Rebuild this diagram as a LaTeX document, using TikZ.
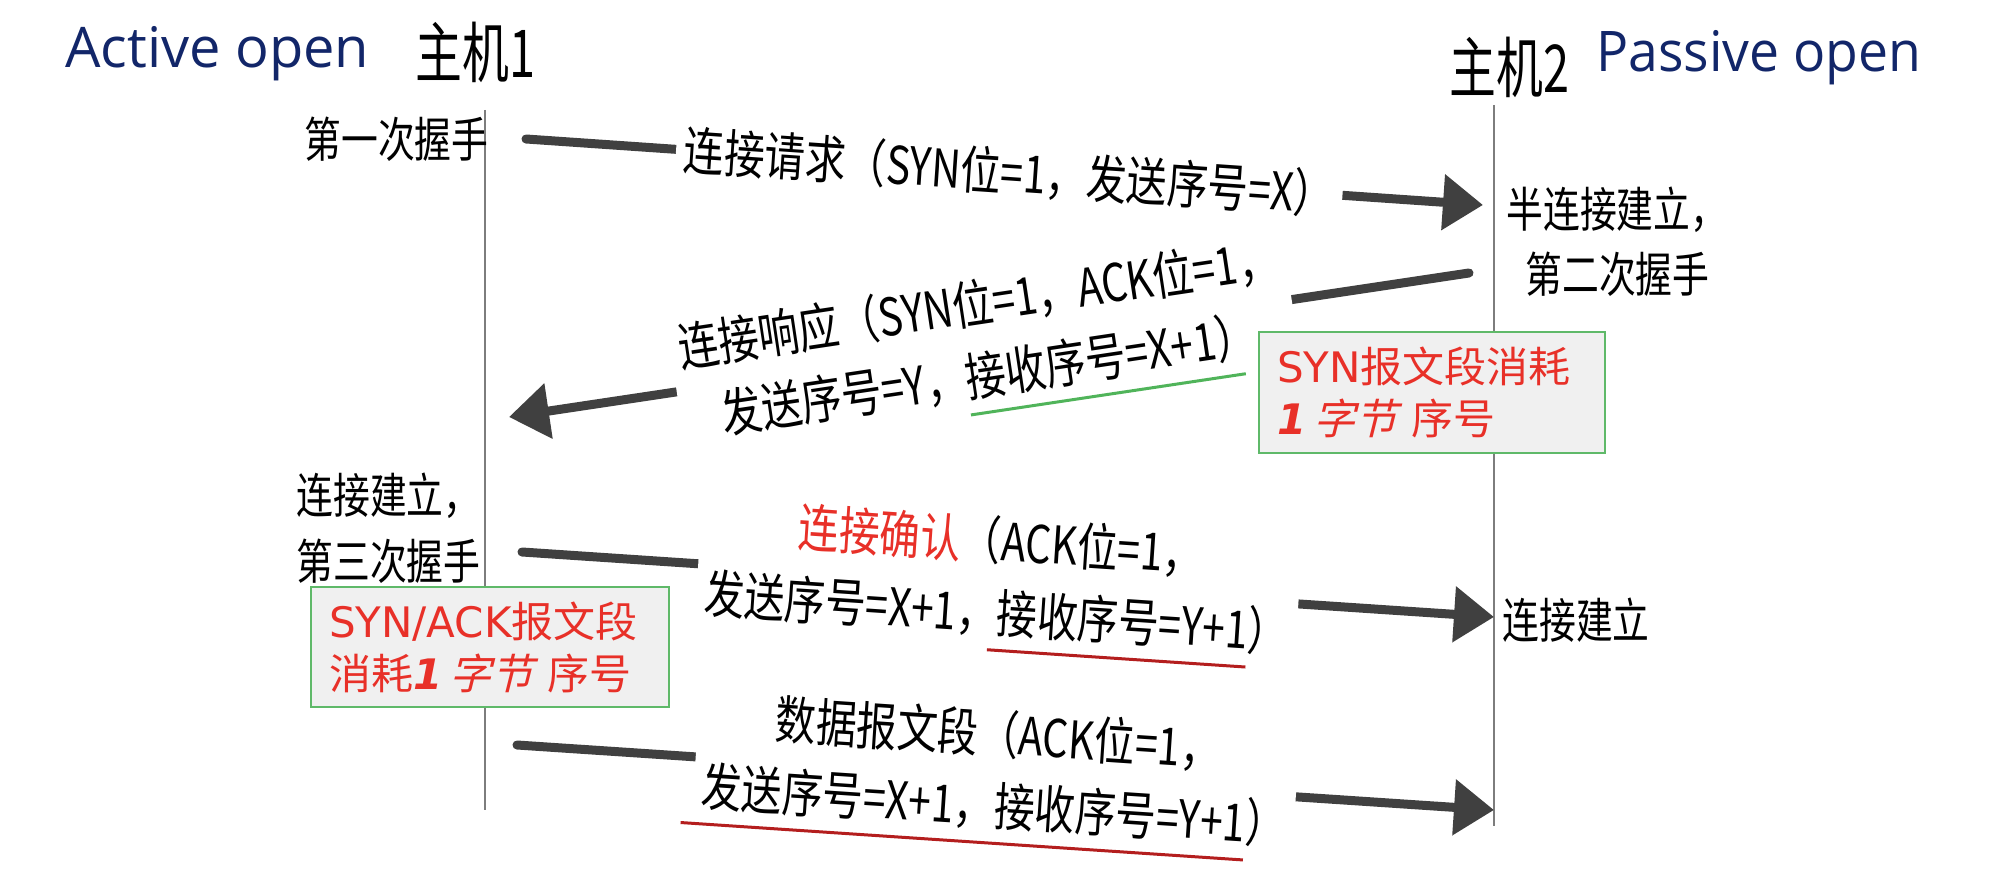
\documentclass[tikz,border=0pt]{standalone}
\usepackage{fontspec}
\usepackage{graphicx}
\usetikzlibrary{arrows.meta}
\newfontfamily\cjk{Noto Sans CJK SC}
\newfontfamily\cjksl[FakeSlant=0.25]{Noto Sans CJK SC}
\newfontfamily\dv{DejaVu Sans}
\newfontfamily\ttl{Open Sans}
\definecolor{navy}{RGB}{18,38,105}
\definecolor{arrowgray}{RGB}{64,64,64}
\definecolor{lifegray}{RGB}{125,125,125}
\definecolor{boxred}{RGB}{232,48,40}
\definecolor{boxgreen}{RGB}{95,185,105}
\definecolor{boxfill}{RGB}{240,240,240}
\definecolor{ulgreen}{RGB}{80,180,90}
\definecolor{ulred}{RGB}{180,30,30}
\newsavebox\ulbox
\newcommand\ulc[4]{\sbox\ulbox{#4}\rlap{\kern-#2\textcolor{#1}{\rule[-9.75pt]{\dimexpr\wd\ulbox+#2+#3\relax}{1.5pt}}}\usebox\ulbox}
\newcommand\nx[1]{\scalebox{0.767}[1]{#1}}
\newcommand\mx[1]{\scalebox{0.78}[1]{#1}}
\tikzset{
 lifeline/.style={draw=lifegray, line width=0.75pt},
 msgarrow/.style={draw=arrowgray, line width=4.5pt, line cap=round, -{Triangle[length=20pt,width=27pt]}},
 msgtext/.style={fill=white, inner xsep=4pt, inner ysep=0pt, align=center, text=black, font=\cjk\fontsize{26}{36}\selectfont},
 lbl/.style={inner sep=0pt, text=black, font=\cjk\fontsize{24}{28}\selectfont},
 hoststyle/.style={inner sep=0pt, text=black, font=\cjk\fontsize{33}{38}\selectfont},
 ttlstyle/.style={inner sep=0pt, text=navy, font=\ttl\fontsize{28}{32}\selectfont},
 notebox/.style={draw=boxgreen, line width=1.2pt, fill=boxfill, inner xsep=9pt, inner ysep=0pt, align=left, text=boxred, font=\dv\fontsize{21}{26}\selectfont},
}
\begin{document}
\begin{tikzpicture}[x=0.5pt,y=-0.5pt]
\useasboundingbox (0,0) rectangle (1994,877);
% lifelines
\coordinate (h1t) at (485,110);
\coordinate (h1b) at (485,810);
\coordinate (h2t) at (1494,105);
\coordinate (h2b) at (1494,826);
\draw[lifeline] (h1t) -- (h1b);
\draw[lifeline] (h2t) -- (h2b);
% titles
\node[ttlstyle, anchor=base west] (act) at (65,68) {Active open};
\node[ttlstyle, anchor=base west] (pas) at (1596,72) {\scalebox{0.955}[1]{Passive open}};
\node[hoststyle, anchor=base west] (host1) at (415,78) {\scalebox{0.71}[1]{主机1}};
\node[hoststyle, anchor=base west] (host2) at (1449,93) {\scalebox{0.71}[1]{主机2}};
% messages
\coordinate (a1s) at (526,139);
\coordinate (a1e) at (1483,205);
\draw[msgarrow] (a1s) -- node[msgtext, sloped, pos=0.505] (m1) {\mx{连接请求（SYN位=1，发送序号=X）}} (a1e);
\coordinate (a2s) at (1469,273);
\coordinate (a2e) at (509,417);
\draw[msgarrow] (a2s) -- node[msgtext, sloped, pos=0.505] (m2) {\mx{连接响应（SYN位=1，ACK位=1，}\\\mx{发送序号=Y，\ulc{ulgreen}{0pt}{16pt}{接收序号=X+1}）}} (a2e);
\coordinate (a3s) at (522,552);
\coordinate (a3e) at (1494,617);
\draw[msgarrow] (a3s) -- node[msgtext, sloped, pos=0.49] (m3) {\mx{\textcolor{boxred}{连接确认}（ACK位=1，}\\\mx{发送序号=X+1，\ulc{ulred}{5pt}{0pt}{接收序号=Y+1}）}} (a3e);
\coordinate (a4s) at (517,745);
\coordinate (a4e) at (1494,810);
\draw[msgarrow] (a4s) -- node[msgtext, sloped, pos=0.49] (m4) {\mx{数据报文段（ACK位=1，}\\\mx{\ulc{ulred}{12pt}{0pt}{发送序号=X+1，接收序号=Y+1}）}} (a4e);
% side labels
\node[lbl, anchor=base east] (l1) at (489,158) {\nx{第一次握手}};
\node[lbl, anchor=base west] (r1) at (1506,228) {\nx{半连接建立，}};
\node[lbl, anchor=base west] (r2) at (1525,293) {\nx{第二次握手}};
\node[lbl, anchor=base west] (l2) at (296,514) {\nx{连接建立，}};
\node[lbl, anchor=base west] (l3) at (296,579) {\nx{第三次握手}};
\node[lbl, anchor=base west] (r3) at (1502,638) {\nx{连接建立}};
% note boxes
\node[notebox, text width=155pt, minimum height=60.5pt] (n1) at (1432,392.5) {SYN{\cjk 报文段消耗}\\{\bfseries\itshape 1}\,{\cjksl 字节} {\cjk 序号}};
\node[notebox, text width=161pt, minimum height=60pt] (n2) at (490,647) {SYN/ACK{\cjk 报文段}\\{\cjk 消耗}{\bfseries\itshape 1}\,{\cjksl 字节} {\cjk 序号}};
\end{tikzpicture}
\end{document}
